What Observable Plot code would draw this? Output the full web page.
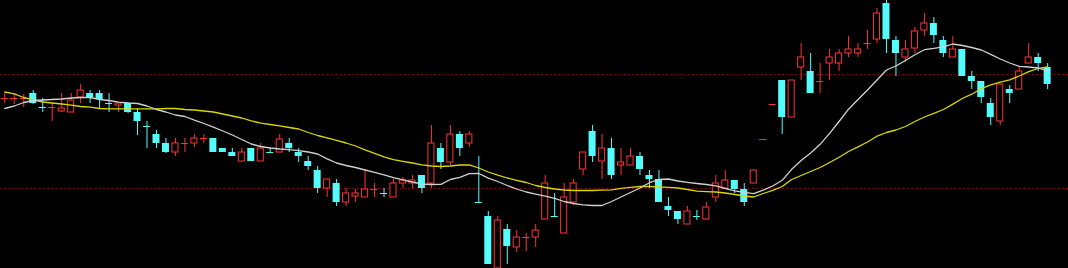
<!DOCTYPE html>
<html><head><meta charset="utf-8">
<script src="https://cdn.jsdelivr.net/npm/d3@7"></script>
<script src="https://cdn.jsdelivr.net/npm/@observablehq/plot@0.6"></script>
<style>html,body{margin:0;padding:0;background:#000;overflow:hidden}svg{display:block}</style>
</head><body><div id="chart"></div>
<script>
const open = [30.2,30.2,30.2,30.7,29.3,29.3,28.9,28.8,30.3,30.7,
30.7,29.7,29.5,29.7,28.8,27.4,26.6,25.7,24.8,25.7,
25.7,26.2,26.2,25.2,24.8,23.9,25.2,23.9,24.8,24.8,
25.7,24.8,23.9,23.0,21.2,21.7,19.8,20.4,20.3,21.1,
20.7,20.3,21.7,21.7,22.5,21.7,25.2,23.8,26.6,25.7,
19.8,18.4,13.2,17.1,15.3,16.3,16.3,18.1,18.4,16.7,
19.8,23.1,26.9,23.9,25.2,23.5,23.5,24.4,22.5,22.1,
19.4,18.9,17.6,18.4,18.1,20.3,21.2,22.0,21.1,21.7,
26.1,29.6,32.0,28.3,33.3,32.9,31.9,33.7,33.7,34.7,
34.7,35.7,36.1,39.7,36.0,34.3,35.2,37.0,37.7,36.0,
34.3,35.1,32.4,31.9,29.7,27.9,31.1,31.1,33.7,34.3,
33.3];
const high = [30.7,30.7,30.6,31.0,30.2,29.7,30.7,30.7,31.6,31.0,
31.0,30.7,29.7,29.8,29.2,27.9,27.0,26.2,26.2,26.2,
26.6,26.6,26.2,25.2,25.2,25.2,25.2,25.7,25.25,26.6,
26.2,25.2,24.4,23.4,22.1,22.1,21.2,21.1,23.1,21.7,
21.2,22.1,22.3,22.5,22.5,27.5,25.7,27.5,26.9,26.9,
24.4,18.9,18.4,17.6,17.0,16.7,17.6,22.5,20.7,21.7,
22.1,24.8,27.5,26.6,26.2,25.2,25.2,24.8,23.0,23.0,
20.3,18.9,19.4,19.0,19.8,22.5,23.0,22.0,21.7,23.0,
26.1,29.6,32.0,32.0,35.7,34.7,33.7,35.1,35.1,36.4,
35.7,37.0,39.2,40.0,36.4,36.0,37.3,38.7,38.3,36.4,
36.4,35.1,32.9,31.9,30.2,31.6,31.5,33.3,35.7,34.7,
33.7];
const low = [29.7,29.6,29.3,29.6,28.8,27.9,28.8,28.8,29.7,29.7,
29.2,28.8,28.8,28.7,26.5,25.2,25.2,24.7,24.4,24.8,
25.3,25.7,24.8,24.8,24.4,23.9,23.9,23.9,24.75,24.8,
24.8,23.8,23.0,20.7,20.3,19.4,19.4,19.8,20.3,20.3,
20.3,20.3,21.2,21.2,20.7,21.2,23.1,23.5,24.4,25.3,
19.7,13.6,13.2,13.6,14.8,14.9,15.3,18.1,18.3,16.7,
19.5,22.5,23.8,22.1,22.1,22.5,23.5,22.5,21.2,19.8,
18.4,17.6,17.6,18.0,18.0,19.8,21.2,20.7,19.4,21.7,
26.1,29.6,26.6,28.3,32.0,30.7,30.7,32.0,32.9,34.3,
34.3,35.1,35.7,34.7,32.4,33.8,34.7,36.4,35.7,34.3,
34.3,32.4,31.1,29.7,27.5,27.5,29.7,31.1,33.7,32.9,
31.1];
const close = [30.2,30.2,30.2,29.7,29.3,29.3,29.2,30.0,31.0,30.3,
30.1,29.7,29.7,28.8,27.9,27.4,25.7,24.8,25.7,25.7,
26.2,26.2,24.8,24.8,24.4,24.8,23.9,25.2,24.8,26.1,
25.2,24.4,23.4,21.2,22.1,19.8,20.7,20.7,21.1,21.1,
20.7,21.7,22.0,22.0,21.2,25.7,23.8,26.6,25.2,26.6,
19.7,13.6,18.0,15.4,16.3,16.3,17.0,21.7,18.3,20.3,
21.7,24.8,24.4,25.2,22.5,23.8,24.4,23.1,22.1,19.8,
19.0,18.1,18.9,18.4,19.3,21.7,22.0,21.1,19.8,23.0,
26.1,29.6,28.3,32.0,34.3,30.7,31.9,34.3,34.7,35.1,
35.1,35.7,38.7,36.1,34.7,35.1,36.9,37.7,36.5,34.7,
35.1,32.4,31.9,30.3,28.3,31.6,30.7,32.9,34.3,33.7,
31.6];
const maShort = [29.2,29.45,29.8,30.0,30.05,30.1,30.15,30.25,30.3,30.3,
30.1,30.0,29.83,29.75,29.7,29.45,29.1,28.85,28.55,28.4,
28.03,27.7,27.33,26.95,26.55,26.1,25.65,25.4,25.25,25.15,
25.08,24.98,24.85,24.65,24.17,23.75,23.5,23.3,23.05,22.82,
22.57,22.28,22.07,21.85,21.65,21.6,21.62,22.1,22.32,22.68,
22.7,22.23,21.9,21.5,21.15,20.85,20.63,20.43,20.22,19.9,
19.7,19.57,19.5,19.5,19.9,20.35,20.8,21.25,21.78,22.1,
22.15,21.95,21.82,21.7,21.6,21.47,21.2,20.97,20.82,20.68,
21.03,21.45,22.02,23.12,24.0,24.75,25.62,26.72,27.9,29.13,
30.1,31.05,32.05,33.05,33.45,34.0,34.57,35.08,35.22,35.37,
35.65,35.5,35.3,35.05,34.62,34.15,33.75,33.42,33.35,33.25,
32.95];
const maLong = [30.85,30.67,30.3,30.07,29.85,29.75,29.65,29.53,29.4,29.33,
29.2,29.17,29.17,29.17,29.17,29.17,29.17,29.2,29.2,29.1,
29.05,28.95,28.85,28.65,28.45,28.25,27.97,27.73,27.6,27.47,
27.3,27.15,26.8,26.5,26.26,26.02,25.75,25.45,25.07,24.72,
24.37,24.08,23.92,23.75,23.57,23.45,23.4,23.45,23.55,23.57,
23.25,22.85,22.53,22.25,22.02,21.8,21.5,21.3,21.15,21.05,
21.0,21.0,21.0,21.03,21.07,21.22,21.32,21.4,21.4,21.37,
21.32,21.25,21.1,20.93,20.88,20.85,20.75,20.6,20.45,20.35,
20.7,21.02,21.4,22.1,22.5,22.9,23.3,23.8,24.33,24.9,
25.37,25.85,26.43,26.8,27.05,27.4,27.9,28.35,28.72,29.1,
29.64,30.2,30.63,31.18,31.57,31.84,32.07,32.45,32.88,33.2,
33.35];
const refLevels = [32.6, 21.2];

const RED = "#ff3232", CYAN = "#54fcfc";
const candles = open.map((o, i) => ({i, open: o, high: high[i], low: low[i], close: close[i]}));
candles.forEach((d, i) => {
  d.up = d.close > d.open || (d.close === d.open && (i === 0 || d.close >= candles[i - 1].close));
  d.doji = Math.abs(d.close - d.open) < 0.05;
});
const upBodies = candles.filter(d => d.up && !d.doji);
const downBodies = candles.filter(d => !d.up && !d.doji);
const dojis = candles.filter(d => d.doji);
const hw = 0.37, hwr = 0.32;

const chart = Plot.plot({
  width: 1068, height: 268,
  margin: 0,
  x: {domain: [-0.4536, 112.2], axis: null},
  y: {domain: [13.2, 40], axis: null},
  style: {background: "#000"},
  marks: [
    Plot.ruleY(refLevels, {stroke: "#b00000", strokeWidth: 1.2, strokeDasharray: "1.5,2.8"}),
    Plot.ruleX(candles, {x: "i", y1: "low", y2: "high", stroke: d => d.up ? RED : CYAN, strokeWidth: 1}),
    Plot.rect(downBodies, {x1: d => d.i - hw, x2: d => d.i + hw, y1: "open", y2: "close", fill: CYAN}),
    Plot.rect(upBodies, {x1: d => d.i - hwr, x2: d => d.i + hwr, y1: "open", y2: "close", fill: "#000", stroke: RED, strokeWidth: 1}),
    Plot.ruleY(dojis, {y: "close", x1: d => d.i - hw, x2: d => d.i + hw, stroke: d => d.up ? RED : CYAN, strokeWidth: 1}),
    Plot.line(maLong, {x: (d, i) => i, y: d => d, stroke: "#d8d800", strokeWidth: 1.3}),
    Plot.line(maShort, {x: (d, i) => i, y: d => d, stroke: "#d0d0d0", strokeWidth: 1.3})
  ]
});
document.getElementById("chart").appendChild(chart);
</script>
</body></html>
